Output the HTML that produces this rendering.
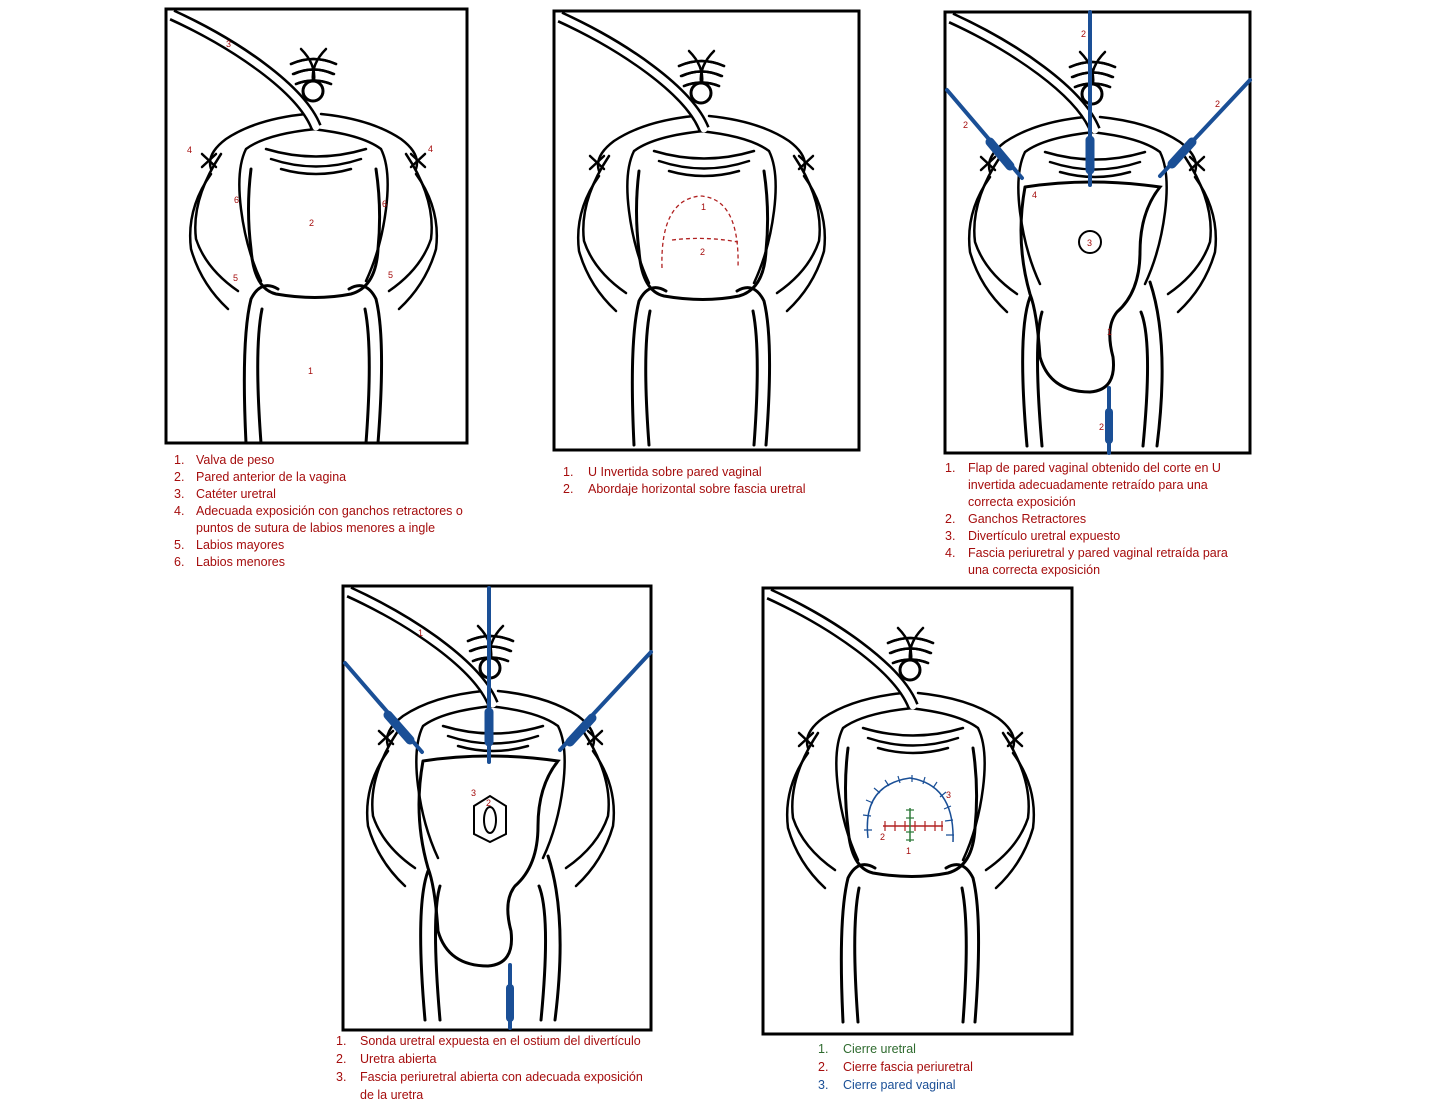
<!DOCTYPE html>
<html><head><meta charset="utf-8"><style>
html,body{margin:0;padding:0;background:#fff;}
svg{display:block}
text{font-family:"Liberation Sans",sans-serif;}
.cap{font-size:12.5px;fill:#a50d0d;}
.n{font-size:9px;fill:#a50d0d;}
</style></head><body>
<svg width="1429" height="1104" viewBox="0 0 1429 1104" xmlns="http://www.w3.org/2000/svg">
<defs>
<g id="half" fill="none" stroke="#000" stroke-width="2.5" stroke-linecap="round">
  <path d="M140,105 Q90,110 60,130 Q40,145 45,160"/>
  <path d="M150,120 Q100,125 80,140 Q70,160 75,200 Q80,240 95,272"/>
  <path d="M55,145 Q25,190 30,230 Q40,260 72,282"/>
  <path d="M45,165 Q20,200 25,240 Q35,275 62,300"/>
  <path d="M135,40 Q150,55 148,72"/>
  <path d="M125,55 Q147,45 170,55"/>
  <path d="M128,65 Q147,56 168,65"/>
  <path d="M130,75 Q147,68 165,75"/>
  <path d="M36,145 L50,158 M50,145 L36,158"/>
</g>
<g id="top" fill="none" stroke="#000" stroke-linecap="round">
  <use href="#half"/>
  <use href="#half" transform="translate(295,0) scale(-1,1)"/>
  <circle cx="147" cy="82" r="10" stroke-width="3" fill="#fff"/>
  <path d="M100,140 Q150,155 200,140" stroke-width="2.5"/>
  <path d="M105,150 Q150,165 195,150" stroke-width="2.5"/>
  <path d="M115,160 Q150,170 185,160" stroke-width="2.5"/>
  <path d="M6,6 C70,35 135,80 150,118" stroke-width="12" stroke-linecap="butt"/>
  <path d="M2,4 C70,35 135,80 150,118" stroke="#fff" stroke-width="7"/>
</g>
<g id="body" fill="none" stroke="#000" stroke-width="3" stroke-linecap="round">
  <path d="M85,160 Q80,200 85,240 Q88,280 110,285 Q150,292 185,285 Q210,278 212,240 Q216,200 210,160"/>
  <path d="M80,434 Q75,330 85,290 Q95,270 112,280"/>
  <path d="M212,434 Q220,330 210,290 Q200,270 183,280"/>
  <path d="M95,434 Q88,340 96,300"/>
  <path d="M200,434 Q207,340 199,300"/>
</g>
<g id="flap" fill="none" stroke="#000" stroke-width="3" stroke-linecap="round">
  <path d="M80,175 Q145,165 215,175 Q195,200 195,240 Q195,280 172,300 Q160,315 168,345 Q172,378 145,380 Q105,380 95,345 Q92,300 85,282 Q70,230 80,175"/>
  <path d="M82,434 Q72,320 85,285"/>
  <path d="M212,434 Q225,330 205,270"/>
  <path d="M97,434 Q88,330 97,300"/>
  <path d="M198,434 Q208,330 196,300"/>
</g>
</defs>
<g transform="translate(166,9)"><use href="#top"/><use href="#body"/></g>
<g transform="translate(554,11)"><use href="#top"/><use href="#body"/></g>
<g transform="translate(945,12)"><use href="#top"/><use href="#flap"/></g>
<g transform="translate(343,586)"><use href="#top"/><use href="#flap"/></g>
<g transform="translate(763,588)"><use href="#top"/><use href="#body"/></g>
<g fill="none" stroke="#000" stroke-width="3">
<rect x="166" y="9" width="301" height="434"/>
<rect x="554" y="11" width="305" height="439"/>
<rect x="945" y="12" width="305" height="441"/>
<rect x="343" y="586" width="308" height="444"/>
<rect x="763" y="588" width="309" height="446"/>
</g>

<g class="n"><text x="226" y="47">3</text><text x="187" y="153">4</text><text x="428" y="152">4</text><text x="234" y="203">6</text><text x="382" y="207">6</text><text x="309" y="226">2</text><text x="233" y="281">5</text><text x="388" y="278">5</text><text x="308" y="374">1</text></g>
<g fill="none" stroke="#b02020" stroke-width="1.3" stroke-dasharray="4,3">
<path d="M662,268 Q660,200 700,196 Q740,198 738,268"/>
<path d="M672,240 Q705,236 738,242"/></g>
<g class="n"><text x="701" y="210">1</text><text x="700" y="255">2</text></g>

<g stroke="#1a4f96" stroke-width="4" fill="none" stroke-linecap="round">
<path d="M947,90 L1022,178"/><path d="M1090,12 L1090,185"/><path d="M1250,80 L1160,176"/>
<path d="M1109,388 L1109,453"/>
<path d="M990,142 L1010,166" stroke-width="9"/><path d="M1090,140 L1090,170" stroke-width="9"/><path d="M1192,142 L1172,164" stroke-width="9"/>
<path d="M1109,412 L1109,440" stroke-width="8"/></g>
<circle cx="1090" cy="242" r="11" fill="none" stroke="#000" stroke-width="2"/>
<g class="n"><text x="1081" y="37">2</text><text x="963" y="128">2</text><text x="1215" y="107">2</text><text x="1032" y="198">4</text><text x="1087" y="246">3</text><text x="1107" y="335">1</text><text x="1099" y="430">2</text></g>

<g stroke="#1a4f96" stroke-width="4" fill="none" stroke-linecap="round">
<path d="M345,663 L422,752"/><path d="M489,588 L489,762"/><path d="M651,652 L560,750"/>
<path d="M510,965 L510,1028"/>
<path d="M388,715 L410,740" stroke-width="9"/><path d="M489,712 L489,742" stroke-width="9"/><path d="M592,718 L570,742" stroke-width="9"/>
<path d="M510,988 L510,1018" stroke-width="8"/></g>
<g fill="none" stroke="#000" stroke-width="2"><path d="M474,806 L490,796 L506,806 L506,834 L490,842 L474,834 Z"/><ellipse cx="490" cy="820" rx="6" ry="13"/></g>
<g class="n"><text x="418" y="636">1</text><text x="471" y="796">3</text><text x="486" y="806">2</text></g>

<path d="M868,838 Q862,785 910,778 Q955,785 953,842" fill="none" stroke="#1a4f96" stroke-width="1.5"/>
<g stroke="#1a4f96" stroke-width="1.2"><path d="M864,830 l8,0 M863,815 l8,1 M866,800 l7,3 M874,788 l6,5 M885,780 l4,6 M898,776 l2,7 M912,775 l0,7 M925,777 l-2,7 M937,782 l-4,6 M946,792 l-6,5 M951,806 l-7,3 M953,820 l-8,1 M954,835 l-8,0"/></g>
<path d="M883,826 L943,826" stroke="#b02020" stroke-width="1.5"/>
<g stroke="#b02020" stroke-width="1.2"><path d="M885,821v10 M895,821v10 M905,821v10 M915,821v10 M925,821v10 M935,821v10 M942,821v10"/></g>
<path d="M910,808 L910,842" stroke="#2f7a3a" stroke-width="1.5"/>
<g stroke="#2f7a3a" stroke-width="1.2"><path d="M906,810h8 M906,818h8 M906,832h8 M906,840h8"/></g>
<g class="n"><text x="880" y="840">2</text><text x="906" y="854">1</text><text x="946" y="798">3</text></g>

<g class="cap">
<text x="174" y="464">1.</text><text x="196" y="464">Valva de peso</text>
<text x="174" y="481">2.</text><text x="196" y="481">Pared anterior de la vagina</text>
<text x="174" y="498">3.</text><text x="196" y="498">Catéter uretral</text>
<text x="174" y="515">4.</text><text x="196" y="515">Adecuada exposición con ganchos retractores o</text>
<text x="196" y="532">puntos de sutura de labios menores a ingle</text>
<text x="174" y="549">5.</text><text x="196" y="549">Labios mayores</text>
<text x="174" y="566">6.</text><text x="196" y="566">Labios menores</text>

<text x="563" y="476">1.</text><text x="588" y="476">U Invertida sobre pared vaginal</text>
<text x="563" y="493">2.</text><text x="588" y="493">Abordaje horizontal sobre fascia uretral</text>

<text x="945" y="472">1.</text><text x="968" y="472">Flap de pared vaginal obtenido del corte en U</text>
<text x="968" y="489">invertida adecuadamente retraído para una</text>
<text x="968" y="506">correcta exposición</text>
<text x="945" y="523">2.</text><text x="968" y="523">Ganchos Retractores</text>
<text x="945" y="540">3.</text><text x="968" y="540">Divertículo uretral expuesto</text>
<text x="945" y="557">4.</text><text x="968" y="557">Fascia periuretral y pared vaginal retraída para</text>
<text x="968" y="574">una correcta exposición</text>

<text x="336" y="1045">1.</text><text x="360" y="1045">Sonda uretral expuesta en el ostium del divertículo</text>
<text x="336" y="1063">2.</text><text x="360" y="1063">Uretra abierta</text>
<text x="336" y="1081">3.</text><text x="360" y="1081">Fascia periuretral abierta con adecuada exposición</text>
<text x="360" y="1099">de la uretra</text>

<text x="818" y="1053" style="fill:#2f6b2f">1.</text><text x="843" y="1053" style="fill:#2f6b2f">Cierre uretral</text>
<text x="818" y="1071">2.</text><text x="843" y="1071">Cierre fascia periuretral</text>
<text x="818" y="1089" style="fill:#1a4f96">3.</text><text x="843" y="1089" style="fill:#1a4f96">Cierre pared vaginal</text>
</g>
</svg>
</body></html>
